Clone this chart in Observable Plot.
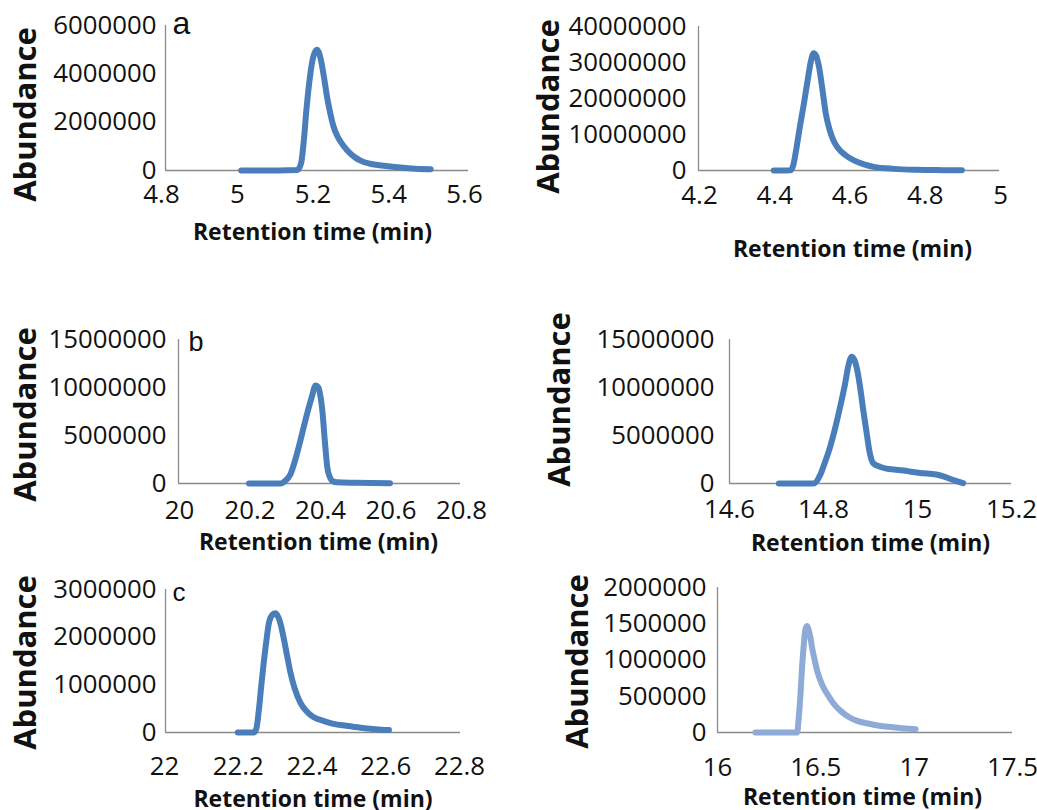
<!DOCTYPE html>
<html><head><meta charset="utf-8">
<script src="https://cdn.jsdelivr.net/npm/d3@7"></script>
<script src="https://cdn.jsdelivr.net/npm/@observablehq/plot@0.6"></script>
<style>
body{margin:0;background:#fff;}
#wrap{position:relative;width:1037px;height:810px;overflow:hidden;background:#fff;font-family:"Open Sans",sans-serif;}
#wrap svg{position:absolute;overflow:visible;}
</style></head><body><div id="wrap"></div>
<script>
// Panel a (left): retention time (min) and abundance
const time1 = [5.00, 5.05, 5.10, 5.148, 5.158, 5.165, 5.172, 5.18, 5.19, 5.20, 5.21, 5.218, 5.227, 5.236, 5.244, 5.253, 5.262, 5.28, 5.30, 5.315, 5.34, 5.376, 5.42, 5.46, 5.50];
const abund1 = [0, 0, 0, 20000, 300000, 1200000, 2500000, 3700000, 4700000, 5000000, 4600000, 3900000, 3000000, 2300000, 1800000, 1450000, 1200000, 830000, 550000, 410000, 280000, 200000, 120000, 70000, 50000];
// Panel a (right)
const time2 = [4.40, 4.42, 4.445, 4.452, 4.46, 4.47, 4.48, 4.49, 4.499, 4.506, 4.512, 4.52, 4.53, 4.538, 4.548, 4.558, 4.569, 4.59, 4.613, 4.64, 4.666, 4.72, 4.78, 4.85, 4.90];
const abund2 = [0, 0, 100000, 1500000, 6000000, 12500000, 18500000, 25000000, 30500000, 32600000, 32000000, 29000000, 22000000, 16000000, 11500000, 8500000, 6500000, 4300000, 2800000, 1700000, 1000000, 450000, 200000, 100000, 50000];
// Panel b (left)
const time3 = [20.20, 20.25, 20.29, 20.30, 20.318, 20.333, 20.346, 20.356, 20.365, 20.378, 20.389, 20.397, 20.403, 20.408, 20.415, 20.422, 20.43, 20.437, 20.45, 20.50, 20.55, 20.60];
const abund3 = [0, 0, 0, 200000, 1000000, 2700000, 4500000, 6000000, 7300000, 9000000, 10200000, 10000000, 9000000, 7600000, 4500000, 1700000, 600000, 250000, 120000, 80000, 50000, 30000];
// Panel b (right)
const time4 = [14.705, 14.75, 14.779, 14.793, 14.803, 14.814, 14.825, 14.835, 14.846, 14.853, 14.86, 14.867, 14.873, 14.878, 14.885, 14.892, 14.898, 14.906, 14.92, 14.934, 14.95, 14.97, 14.99, 15.005, 15.04, 15.055, 15.069, 15.085, 15.097];
const abund4 = [0, 0, 0, 900000, 2200000, 3800000, 5800000, 7900000, 10400000, 12300000, 13200000, 12700000, 11500000, 10000000, 7500000, 5200000, 3300000, 2100000, 1750000, 1550000, 1450000, 1350000, 1200000, 1100000, 940000, 750000, 490000, 220000, 30000];
// Panel c (left)
const time5 = [22.196, 22.22, 22.24, 22.247, 22.253, 22.26, 22.267, 22.274, 22.28, 22.29, 22.298, 22.306, 22.313, 22.32, 22.33, 22.339, 22.35, 22.366, 22.383, 22.402, 22.43, 22.456, 22.49, 22.529, 22.57, 22.606];
const abund5 = [0, 0, 0, 100000, 460000, 1000000, 1510000, 1950000, 2280000, 2470000, 2500000, 2420000, 2250000, 2000000, 1600000, 1250000, 930000, 620000, 440000, 320000, 240000, 180000, 140000, 100000, 70000, 50000];
// Panel c (right)
const time6 = [16.193, 16.30, 16.405, 16.413, 16.422, 16.43, 16.439, 16.447, 16.456, 16.465, 16.473, 16.481, 16.494, 16.507, 16.53, 16.558, 16.59, 16.625, 16.67, 16.71, 16.77, 16.83, 16.90, 16.96, 17.007];
const abund6 = [0, 0, 0, 200000, 530000, 900000, 1220000, 1420000, 1470000, 1400000, 1300000, 1170000, 1000000, 850000, 670000, 530000, 400000, 300000, 210000, 160000, 120000, 90000, 70000, 55000, 46000];

// Tick labels
const xTicks1 = [4.8, 5, 5.2, 5.4, 5.6];
const yTicks1 = [0, 2000000, 4000000, 6000000];
const xTicks2 = [4.2, 4.4, 4.6, 4.8, 5];
const yTicks2 = [0, 10000000, 20000000, 30000000, 40000000];
const xTicks3 = [20, 20.2, 20.4, 20.6, 20.8];
const yTicks3 = [0, 5000000, 10000000, 15000000];
const xTicks4 = [14.6, 14.8, 15, 15.2];
const yTicks4 = [0, 5000000, 10000000, 15000000];
const xTicks5 = [22, 22.2, 22.4, 22.6, 22.8];
const yTicks5 = [0, 1000000, 2000000, 3000000];
const xTicks6 = [16, 16.5, 17, 17.5];
const yTicks6 = [0, 500000, 1000000, 1500000, 2000000];

const xTitle = "Retention time (min)";
const yTitle = "Abundance";
const blue = "#4a7ebb";
const lightBlue = "#8eaad6";
const axisGray = "#8a8a8a";

const panels = [
  {time: time1, abund: abund1, xTicks: xTicks1, yTicks: yTicks1, color: blue, letter: "a", letterSize: 32, letterDx: 7, letterDy: 8,
   left: 0, top: 0, width: 518, height: 260, x0: 165, x1: 468, yTop: 25, y0: 170,
   yPad: 9, xPad: 14, xTickDx: -4, xlDx: -4.5, xlDy: 62, ylDx: -139, ylDy: 16.5},
  {time: time2, abund: abund2, xTicks: xTicks2, yTicks: yTicks2, color: blue,
   left: 518, top: 0, width: 519, height: 270, x0: 698, x1: 999, yTop: 26, y0: 170,
   yPad: 12, xPad: 15, xTickDx: 1, xlDx: 3.5, xlDy: 79, ylDx: -149, ylDy: 8},
  {time: time3, abund: abund3, xTicks: xTicks3, yTicks: yTicks3, color: blue, letter: "b", letterSize: 27, letterDx: 10, letterDy: 11,
   left: 0, top: 300, width: 518, height: 260, x0: 178, x1: 460, yTop: 339, y0: 483,
   yPad: 12, xPad: 17, xTickDx: 1, xlDx: -1, xlDy: 59, ylDx: -152, ylDy: 3},
  {time: time4, abund: abund4, xTicks: xTicks4, yTicks: yTicks4, color: blue,
   left: 518, top: 300, width: 519, height: 260, x0: 729, x1: 1011, yTop: 339, y0: 483,
   yPad: 15, xPad: 16, xTickDx: 0, xlDx: 0, xlDy: 60, ylDx: -169, ylDy: -12},
  {time: time5, abund: abund5, xTicks: xTicks5, yTicks: yTicks5, color: blue, letter: "c", letterSize: 26, letterDx: 7, letterDy: 11,
   left: 0, top: 560, width: 518, height: 250, x0: 165, x1: 460, yTop: 589, y0: 732,
   yPad: 9, xPad: 24, xTickDx: -1, xlDx: 0, xlDy: 67, ylDx: -139, ylDy: 1.5},
  {time: time6, abund: abund6, xTicks: xTicks6, yTicks: yTicks6, color: lightBlue,
   left: 518, top: 560, width: 519, height: 250, x0: 717, x1: 1012, yTop: 587, y0: 732,
   yPad: 11, xPad: 25, xTickDx: 0, xlDx: -2.5, xlDy: 65, ylDx: -139, ylDy: 1.5}
];

const wrap = document.getElementById("wrap");
for (const p of panels) {
  const data = p.time.map((t, i) => ({t, v: p.abund[i]}));
  const marks = [
    Plot.ruleX([p.xTicks[0]], {stroke: axisGray, strokeWidth: 1.3}),
    Plot.ruleY([0], {stroke: axisGray, strokeWidth: 1.3}),
    Plot.axisY({ticks: p.yTicks, tickSize: 0, tickPadding: p.yPad, tickFormat: d => String(d), fontSize: 25.8, label: null, fill: "#111"}),
    Plot.axisX({ticks: p.xTicks, tickSize: 0, tickPadding: p.xPad, tickFormat: d => String(d), fontSize: 25.8, label: null, fill: "#111", dx: p.xTickDx}),
    Plot.line(data, {x: "t", y: "v", stroke: p.color, strokeWidth: 6, curve: "monotone-x", strokeLinejoin: "round", strokeLinecap: "round"}),
    Plot.text([xTitle], {frameAnchor: "bottom", text: d => d, textAnchor: "middle", dx: p.xlDx, dy: p.xlDy, fontSize: 23, fontWeight: "bold", fill: "#111", lineAnchor: "middle"}),
    Plot.text([yTitle], {frameAnchor: "left", text: d => d, textAnchor: "middle", rotate: -90, dx: p.ylDx, dy: p.ylDy, fontSize: 31, fontWeight: "bold", fill: "#111", lineAnchor: "middle"})
  ];
  if (p.letter) {
    marks.push(Plot.text([p.letter], {frameAnchor: "top-left", text: d => d, textAnchor: "start", lineAnchor: "bottom", dx: p.letterDx, dy: p.letterDy, fontSize: p.letterSize, fontFamily: "Liberation Sans", fill: "#111"}));
  }
  const svg = Plot.plot({
    width: p.width, height: p.height,
    marginLeft: p.x0 - p.left, marginRight: p.left + p.width - p.x1,
    marginTop: p.yTop - p.top, marginBottom: p.top + p.height - p.y0,
    style: {fontFamily: "'Open Sans', sans-serif", background: "transparent", overflow: "visible"},
    x: {domain: [p.xTicks[0], p.xTicks[p.xTicks.length - 1]]},
    y: {domain: [0, p.yTicks[p.yTicks.length - 1]]},
    marks
  });
  svg.style.left = p.left + "px";
  svg.style.top = p.top + "px";
  wrap.appendChild(svg);
}
</script>
</body></html>
